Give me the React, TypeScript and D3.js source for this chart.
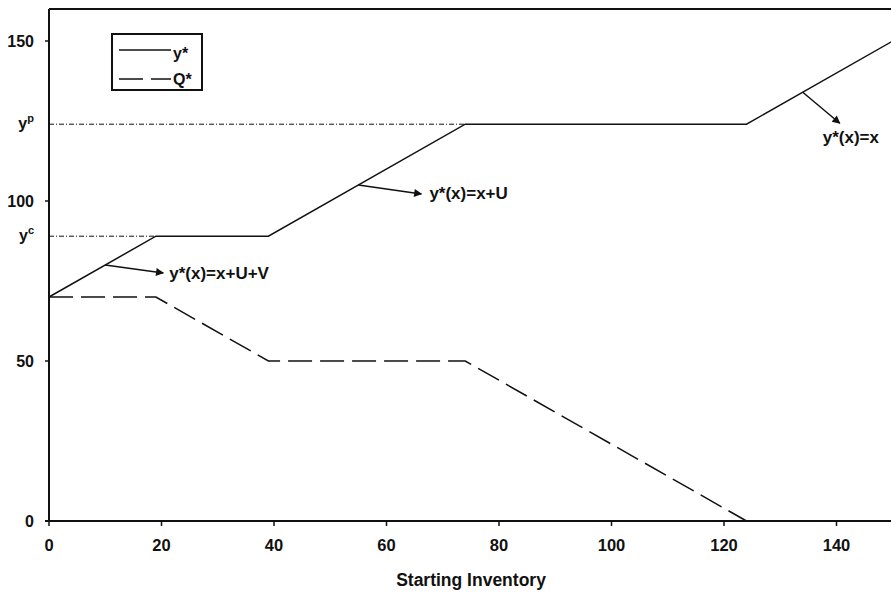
import React from "react";
import * as d3 from "d3";

// starting inventory breakpoints and the optimal policy values
const yStarX = [0, 19, 39, 74, 124, 150];
const yStarY = [70, 89, 89, 124, 124, 150];
const qStarX = [0, 19, 39, 74, 124];
const qStarY = [70, 70, 50, 50, 0];

const xTicks = [0, 20, 40, 60, 80, 100, 120, 140];
const yTicks = [0, 50, 100, 150];

// critical levels
const yC = 89;
const yP = 124;

// arrows: point on the y* line, label text
const noteX = [10, 55, 134];
const noteText = ["y*(x)=x+U+V", "y*(x)=x+U", "y*(x)=x"];
// offsets of arrow tip and label (pixels)
const noteTip = [[58, 8], [63, 9], [37, 31]];
const noteLabel = [[64, 14], [71, 14], [20, 51]];

const W = 891;
const H = 593;
const font = "'Liberation Sans', Arial, sans-serif";
const ink = "#111";

const App = () => {
  const x = d3.scaleLinear().domain([0, 150]).range([49, 892.75]);
  const y = d3.scaleLinear().domain([0, 160]).range([521, 9]);

  const line = d3
    .line<[number, number]>()
    .x((d) => x(d[0]))
    .y((d) => y(d[1]));

  const yStar = yStarX.map((v, i) => [v, yStarY[i]] as [number, number]);
  const qStar = qStarX.map((v, i) => [v, qStarY[i]] as [number, number]);
  const yAt = d3.scaleLinear().domain(yStarX).range(yStarY);

  return (
    <svg
      width={W}
      height={H}
      style={{ position: "absolute", left: 0, top: 0, background: "#fff" }}
      fontFamily={font}
      fontWeight="bold"
    >
      <defs>
        <marker id="tip" viewBox="0 0 10 10" refX="9" refY="5" markerWidth="10" markerHeight="8" markerUnits="userSpaceOnUse" orient="auto">
          <path d="M0,0 L10,5 L0,10 z" fill={ink} />
        </marker>
      </defs>

      {/* reference levels */}
      <line x1={x(0)} x2={x(19)} y1={y(yC)} y2={y(yC)} stroke={ink} strokeWidth={1} strokeDasharray="5,2,1,2" />
      <line x1={x(0)} x2={x(74)} y1={y(yP)} y2={y(yP)} stroke={ink} strokeWidth={1} strokeDasharray="5,2,1,2" />

      {/* series */}
      <path d={line(yStar) || ""} fill="none" stroke={ink} strokeWidth={1.5} />
      <path d={line(qStar) || ""} fill="none" stroke={ink} strokeWidth={1.5} strokeDasharray="24,8" />

      {/* frame and axes */}
      <line x1={x(0)} x2={W} y1={y(160)} y2={y(160)} stroke={ink} strokeWidth={2} />
      <line x1={x(0)} x2={x(0)} y1={y(160)} y2={y(0)} stroke={ink} strokeWidth={2} />
      <line x1={x(0) - 4} x2={W} y1={y(0)} y2={y(0)} stroke={ink} strokeWidth={2} />

      {xTicks.map((t) => (
        <g key={"x" + t}>
          <line x1={x(t)} x2={x(t)} y1={y(0)} y2={y(0) + 5} stroke={ink} strokeWidth={1.5} />
          <text x={x(t)} y={551} textAnchor="middle" fontSize={16.5} fill={ink}>
            {t}
          </text>
        </g>
      ))}

      {yTicks.map((t) => (
        <g key={"y" + t}>
          <line x1={x(0) - 4} x2={x(0)} y1={y(t)} y2={y(t)} stroke={ink} strokeWidth={1.5} />
          <text x={34} y={y(t) + 6} textAnchor="end" fontSize={16} fill={ink}>
            {t}
          </text>
        </g>
      ))}

      {[
        [yC, "c"],
        [yP, "p"],
      ].map(([v, s]) => (
        <text key={"s" + s} x={34} y={y(v as number) + 5} textAnchor="end" fontSize={16} fill={ink}>
          y<tspan fontSize={11} dy={-7}>{s}</tspan>
        </text>
      ))}

      <text x={471} y={586} textAnchor="middle" fontSize={17.5} fill={ink}>
        Starting Inventory
      </text>

      {/* annotations */}
      {noteX.map((nx, i) => {
        const px = x(nx);
        const py = y(yAt(nx));
        return (
          <g key={"n" + i}>
            <line
              x1={px}
              y1={py}
              x2={px + noteTip[i][0]}
              y2={py + noteTip[i][1]}
              stroke={ink}
              strokeWidth={1.5}
              markerEnd="url(#tip)"
            />
            <text x={px + noteLabel[i][0]} y={py + noteLabel[i][1]} fontSize={17} fill={ink}>
              {noteText[i]}
            </text>
          </g>
        );
      })}

      {/* legend */}
      <g>
        <rect x={112} y={34} width={90} height={56} fill="#fff" stroke={ink} strokeWidth={2} />
        <line x1={119} x2={171} y1={50} y2={50} stroke={ink} strokeWidth={1.5} />
        <text x={173} y={59} fontSize={16} fill={ink}>
          y*
        </text>
        <line x1={119} x2={171} y1={79} y2={79} stroke={ink} strokeWidth={1.5} strokeDasharray="24,8" />
        <text x={173} y={85} fontSize={16} fill={ink}>
          Q*
        </text>
      </g>
    </svg>
  );
};

export default App;
